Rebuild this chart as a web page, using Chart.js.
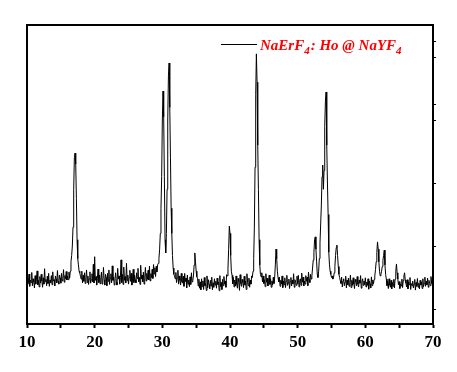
<!DOCTYPE html>
<html>
<head>
<meta charset="utf-8">
<script src="https://cdn.jsdelivr.net/npm/chart.js@4.4.1/dist/chart.umd.min.js"></script>
<style>
  html, body { margin: 0; padding: 0; background: #fff; }
  #xrd { display: block; }
</style>
</head>
<body>
<canvas id="xrd" width="457" height="372"></canvas>
<script>
// scan grid: 2theta from 10 to 70 deg, 0.1 deg per point
const angleStart = 10;
const angleStep = 0.1;

// intensity (a.u.), one row per degree
const intensity = [
  7.5, 10.1, 8.1, 11.1, 7.2, 9.2, 8.4, 11.6, 7.4, 9.6,       // 10
  8.6, 6.7, 10.6, 7.9, 9.8, 12.1, 7.7, 9.1, 7.0, 10.3,       // 11
  8.2, 11.0, 8.9, 6.9, 9.9, 7.9, 12.8, 8.7, 9.4, 7.4,        // 12
  10.4, 8.1, 11.3, 7.2, 9.2, 8.4, 10.6, 7.7, 11.8, 8.9,      // 13
  9.3, 7.3, 10.5, 9.5, 8.3, 12.2, 8.8, 7.9, 10.8, 9.8,       // 14
  8.2, 11.3, 8.9, 9.7, 12.5, 8.5, 10.6, 9.6, 11.9, 9.2,      // 15
  10.4, 9.3, 11.7, 9.8, 12.0, 15.0, 17.0, 20.0, 26.0, 38.0,  // 16
  48.0, 49.5, 46.0, 35.0, 22.0, 16.0, 14.0, 12.0, 11.5, 10.4,// 17
  9.5, 12.0, 8.3, 10.7, 8.8, 11.5, 8.1, 9.9, 12.4, 8.4,      // 18
  10.5, 7.8, 9.6, 11.8, 8.2, 9.3, 11.2, 8.6, 14.2, 8.3,      // 19
  16.6, 9.1, 10.3, 7.6, 9.8, 12.7, 8.4, 10.8, 8.0, 9.5,      // 20
  11.7, 7.9, 8.9, 13.2, 9.3, 7.6, 11.0, 10.0, 7.4, 11.3,     // 21
  8.8, 12.4, 7.8, 9.8, 11.2, 8.3, 13.7, 9.1, 10.1, 7.6,      // 22
  9.6, 11.5, 8.6, 7.6, 12.9, 9.5, 10.5, 7.9, 10.0, 15.6,     // 23
  8.4, 11.0, 7.8, 13.3, 9.1, 10.3, 8.3, 14.5, 9.0, 10.8,     // 24
  7.9, 10.0, 12.3, 8.8, 11.3, 7.6, 9.8, 12.6, 8.4, 10.7,     // 25
  9.3, 8.3, 11.5, 9.6, 12.9, 8.6, 10.1, 7.8, 13.9, 9.5,      // 26
  10.8, 8.6, 11.7, 7.9, 10.1, 13.2, 8.9, 11.3, 9.4, 12.3,    // 27
  9.2, 13.6, 8.9, 11.2, 10.0, 12.6, 9.7, 14.1, 11.1, 13.1,   // 28
  10.3, 13.6, 11.8, 14.0, 14.5, 16.0, 19.0, 24.0, 32.0, 42.0,// 29
  60.0, 69.2, 61.0, 42.0, 22.0, 17.8, 24.0, 38.0, 60.0, 74.0,// 30
  78.1, 64.0, 48.0, 32.0, 24.0, 17.0, 13.0, 11.0, 10.5, 9.6, // 31
  11.6, 8.4, 9.8, 12.3, 7.9, 10.5, 9.1, 7.6, 11.3, 8.6,      // 32
  8.2, 10.4, 7.2, 11.3, 8.7, 9.8, 6.7, 10.8, 7.9, 9.2,       // 33
  7.1, 10.2, 7.8, 11.5, 8.6, 9.1, 10.5, 14.0, 17.8, 15.0,    // 34
  12.0, 10.2, 9.8, 7.3, 9.5, 6.6, 8.6, 6.1, 9.6, 7.1,        // 35
  8.9, 6.2, 10.0, 7.4, 8.1, 5.9, 10.5, 6.7, 9.3, 7.8,        // 36
  6.4, 9.1, 7.3, 10.1, 6.1, 8.3, 6.9, 9.6, 7.6, 8.8,         // 37
  6.6, 9.8, 7.8, 8.6, 5.8, 10.6, 7.1, 8.4, 6.2, 9.4,         // 38
  7.4, 10.3, 7.9, 8.9, 6.9, 10.9, 10.5, 13.0, 19.0, 26.3,    // 39
  24.0, 17.0, 12.0, 10.7, 8.0, 10.0, 7.0, 9.2, 7.3, 10.5,    // 40
  7.8, 6.6, 9.7, 8.7, 5.9, 10.9, 8.1, 7.2, 9.4, 8.4,         // 41
  6.8, 10.4, 7.6, 8.9, 6.2, 11.2, 8.5, 7.4, 9.8, 6.9,        // 42
  9.2, 7.9, 10.5, 10.0, 12.0, 16.0, 26.0, 45.0, 68.0, 81.0,  // 43
  72.0, 52.0, 38.0, 22.0, 14.0, 11.0, 10.2, 11.5, 8.6, 10.5, // 44
  8.1, 9.3, 7.1, 11.2, 8.5, 9.8, 7.3, 8.8, 10.8, 7.8,        // 45
  9.6, 6.9, 8.9, 7.6, 10.1, 8.1, 10.0, 14.0, 19.0, 16.0,     // 46
  12.0, 10.0, 8.6, 10.1, 7.2, 9.1, 7.9, 10.5, 6.8, 8.9,      // 47
  7.7, 9.9, 6.8, 8.8, 10.7, 7.5, 8.3, 9.5, 6.5, 8.7,         // 48
  10.0, 7.3, 9.2, 8.0, 11.2, 6.9, 9.3, 8.5, 7.5, 10.4,       // 49
  8.0, 10.7, 7.0, 8.9, 9.6, 7.5, 11.4, 8.5, 10.1, 7.3,       // 50
  8.9, 7.9, 10.6, 8.8, 10.1, 7.4, 11.7, 9.4, 8.4, 11.0,      // 51
  9.5, 10.5, 13.0, 15.5, 18.0, 22.0, 22.9, 19.0, 15.0, 11.0, // 52
  10.0, 12.0, 16.0, 21.0, 27.0, 33.0, 42.0, 45.7, 38.0, 44.0,// 53
  58.0, 66.0, 68.9, 52.0, 40.0, 30.0, 18.0, 14.0, 12.0, 11.0,// 54
  10.0, 10.5, 9.5, 10.0, 11.5, 13.5, 17.0, 19.5, 20.3, 17.0, // 55
  13.5, 11.0, 10.0, 9.0, 8.1, 10.1, 7.0, 8.9, 9.6, 7.4,      // 56
  8.6, 10.4, 6.7, 9.2, 7.7, 9.8, 7.2, 8.4, 10.8, 6.8,        // 57
  9.1, 7.5, 9.9, 8.0, 6.5, 9.4, 8.7, 7.4, 10.3, 7.9,         // 58
  7.0, 9.2, 8.2, 10.6, 6.6, 8.6, 9.6, 7.5, 8.9, 7.7,         // 59
  9.9, 7.0, 8.5, 7.5, 9.6, 6.3, 8.9, 7.9, 6.7, 10.2,         // 60
  7.4, 9.2, 8.0, 9.4, 10.5, 12.5, 15.0, 18.0, 21.3, 19.0,    // 61
  15.0, 12.0, 10.5, 11.0, 12.0, 13.5, 15.5, 17.0, 18.7, 14.0,// 62
  11.0, 9.5, 7.4, 8.8, 6.5, 9.6, 7.7, 6.9, 9.1, 6.4,         // 63
  8.4, 7.2, 9.4, 6.7, 9.5, 12.0, 14.3, 11.5, 9.5, 7.7,       // 64
  8.7, 6.5, 8.0, 7.3, 9.5, 6.8, 9.0, 10.5, 11.5, 9.2,        // 65
  8.2, 7.0, 9.3, 6.4, 8.6, 7.7, 10.0, 6.2, 8.1, 7.4,         // 66
  8.9, 6.7, 7.9, 9.4, 6.0, 8.4, 7.2, 9.7, 6.9, 8.2,          // 67
  6.4, 9.1, 7.6, 8.6, 6.5, 9.6, 7.1, 8.1, 10.1, 7.2,         // 68
  8.8, 7.7, 9.8, 6.9, 9.1, 8.2, 7.4, 10.3, 8.1, 9.2,         // 69
  8.5                                                        // 70
];

const xTicks = [10, 20, 30, 40, 50, 60, 70];
const rightTicks = [0, 20, 40, 60, 65, 80, 85];
const seriesLabel = 'NaErF4: Ho @ NaYF4';

const points = intensity.map((v, i) => ({ x: +(angleStart + i * angleStep).toFixed(1), y: v }));

const serif = "'Liberation Serif', 'Times New Roman', serif";

// legend with subscripts, drawn by hand
const legendPlugin = {
  id: 'subLegend',
  afterDraw(chart) {
    const c = chart.ctx;
    c.save();
    c.strokeStyle = '#000';
    c.lineWidth = 1;
    c.beginPath();
    c.moveTo(221, 44.5);
    c.lineTo(257, 44.5);
    c.stroke();

    c.fillStyle = '#ff0000';
    c.textBaseline = 'alphabetic';
    const parts = [['NaErF', false], ['4', true], [': Ho @ NaYF', false], ['4', true]];
    let x = 260;
    parts.forEach(([t, sub]) => {
      c.font = sub ? `italic bold 11px ${serif}` : `italic bold 15px ${serif}`;
      c.fillText(t, x, sub ? 54 : 50);
      x += c.measureText(t).width + (sub ? 1 : 0);
    });
    c.restore();
  }
};

new Chart(document.getElementById('xrd'), {
  type: 'line',
  data: {
    datasets: [{
      label: seriesLabel,
      data: points,
      borderColor: '#000',
      borderWidth: 1,
      pointRadius: 0,
      tension: 0,
      yAxisID: 'y'
    }]
  },
  options: {
    responsive: false,
    animation: false,
    devicePixelRatio: 1,
    layout: { padding: { left: 27, top: 25, right: 20, bottom: 0 } },
    plugins: {
      legend: { display: false },
      tooltip: { enabled: false }
    },
    scales: {
      x: {
        type: 'linear',
        position: 'bottom',
        min: 10,
        max: 70,
        ticks: {
          stepSize: 5,
          autoSkip: false,
          maxRotation: 0,
          padding: 4,
          color: '#000',
          font: { family: serif, weight: 'bold', size: 17 },
          callback: v => (xTicks.includes(v) ? v : '')
        },
        grid: {
          display: true,
          drawOnChartArea: false,
          drawTicks: true,
          tickLength: 4,
          tickColor: '#000',
          tickWidth: 2
        },
        border: { display: true, color: '#000', width: 2 },
        afterFit: s => { s.height = 48; }
      },
      xTop: {
        type: 'linear',
        position: 'top',
        min: 10,
        max: 70,
        ticks: { display: false },
        grid: { display: false },
        border: { display: true, color: '#000', width: 2 },
        afterFit: s => { s.height = 0; }
      },
      y: {
        type: 'linear',
        position: 'left',
        min: -4.76,
        max: 90.16,
        ticks: { display: false },
        grid: { display: false },
        border: { display: true, color: '#000', width: 2 },
        afterFit: s => { s.width = 0; }
      },
      yRight: {
        type: 'linear',
        position: 'right',
        min: -4.76,
        max: 90.16,
        afterBuildTicks: s => { s.ticks = rightTicks.map(v => ({ value: v })); },
        ticks: { display: false },
        grid: {
          display: true,
          drawOnChartArea: false,
          drawTicks: true,
          tickLength: 3,
          tickColor: '#000',
          tickWidth: 1
        },
        border: { display: true, color: '#000', width: 2 },
        afterFit: s => { s.width = 4; }
      }
    }
  },
  plugins: [legendPlugin]
});
</script>
</body>
</html>
